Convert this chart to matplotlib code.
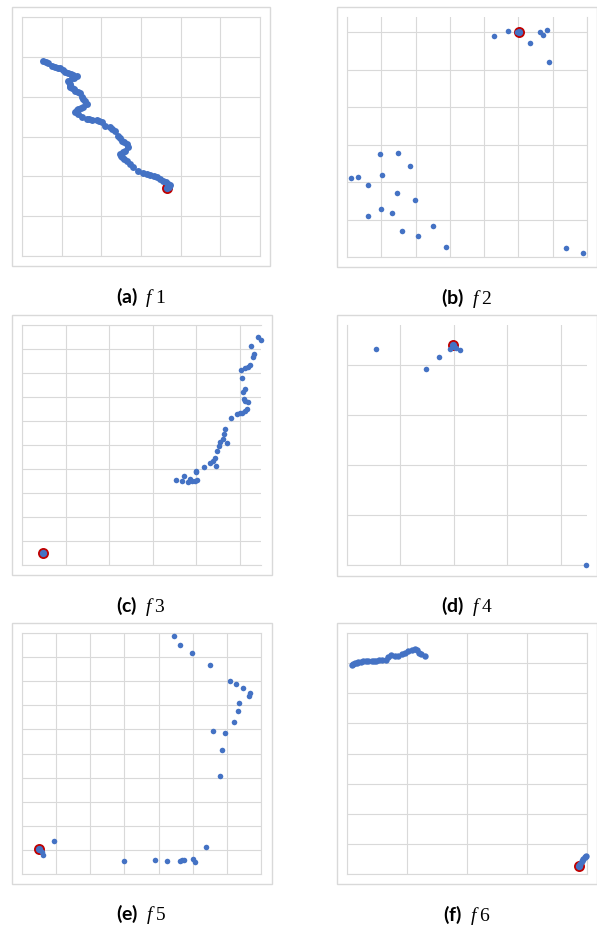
import matplotlib
matplotlib.use('Agg')
import matplotlib.pyplot as plt
from matplotlib.patches import Rectangle

W, H = 597, 929
plt.rcParams['mathtext.fontset'] = 'custom'
plt.rcParams['mathtext.rm'] = 'Liberation Serif'
plt.rcParams['mathtext.it'] = 'Liberation Serif:italic'
plt.rcParams['mathtext.bf'] = 'Lato:bold'

BLUE = '#4472C4'
RED = '#C00000'
GRID = '#d9d9d9'

# ---------------- data ----------------
f1_x = [0.54, 0.60, 0.66, 0.75, 0.83, 0.90, 0.96, 1.04, 1.08, 1.17, 1.23, 1.29, 1.38, 1.30, 1.25, 1.17,
        1.19, 1.20, 1.21, 1.22, 1.25, 1.30, 1.34, 1.42, 1.46, 1.50, 1.55, 1.59, 1.63, 1.55, 1.48, 1.42,
        1.38, 1.34, 1.42, 1.50, 1.63,
        1.70, 1.76, 1.88, 1.95, 2.01, 2.09, 2.22, 2.28, 2.34, 2.43, 2.47, 2.51, 2.57, 2.64, 2.68, 2.60,
        2.54, 2.47, 2.49,
        2.51, 2.58, 2.64, 2.72, 2.81, 2.93, 3.06, 3.15, 3.23, 3.32, 3.40, 3.48, 3.56, 3.63, 3.69, 3.73, 3.70]
f1_y = [4.89, 4.87, 4.85, 4.78, 4.74, 4.72, 4.71, 4.68, 4.63, 4.59, 4.57, 4.54, 4.51, 4.48, 4.46, 4.40,
        4.36, 4.32, 4.27, 4.24, 4.21, 4.18, 4.15, 4.12, 4.09, 3.98, 3.94, 3.90, 3.82, 3.73, 3.71, 3.69,
        3.66, 3.62, 3.57, 3.50, 3.44,
        3.43, 3.42, 3.42, 3.40, 3.36, 3.27, 3.23, 3.19, 3.15, 3.02, 2.96, 2.89, 2.85, 2.81, 2.73, 2.64,
        2.60, 2.56, 2.52,
        2.48, 2.43, 2.39, 2.31, 2.23, 2.14, 2.08, 2.05, 2.03, 2.00, 1.98, 1.94, 1.89, 1.85, 1.81, 1.77, 1.74]
f1_best = (3.66, 1.70)

f2_x = [4.29, 4.70, 4.95, 5.33, 5.62, 5.73, 5.84, 5.88, 0.97, 1.48, 1.85, 0.13, 0.31, 1.02, 0.61,
        1.45, 1.97, 1.00, 1.32, 0.61, 1.60, 2.50, 2.07, 2.88, 6.38, 6.88]
f2_y = [5.89, 6.02, 6.00, 5.71, 6.01, 5.91, 6.05, 5.20, 2.75, 2.77, 2.42, 2.12, 2.14, 2.19, 1.91,
        1.72, 1.53, 1.29, 1.17, 1.10, 0.70, 0.84, 0.56, 0.28, 0.24, 0.12]
f2_best = (5.01, 6.00)

f3_x = [3.54, 3.67, 3.72, 3.81, 3.85, 3.89, 3.96, 4.02, 4.00, 3.98, 4.18, 4.31, 4.38, 4.42, 4.44,
        4.48, 4.51, 4.53, 4.61, 4.63, 4.65, 4.69, 4.80, 4.94, 4.99, 5.05, 5.11, 5.15, 5.11, 5.18,
        5.09, 5.07, 5.11, 5.05, 5.03, 5.11, 5.18, 5.22, 5.30, 5.32, 5.24, 5.41, 5.47]
f3_y = [3.56, 3.49, 3.72, 3.44, 3.58, 3.49, 3.51, 3.54, 3.86, 3.93, 4.10, 4.25, 4.35, 4.44, 4.14,
        4.76, 4.94, 5.11, 5.25, 5.46, 5.67, 5.07, 6.11, 6.29, 6.32, 6.33, 6.42, 6.50, 6.85, 6.78,
        6.92, 7.19, 7.33, 7.79, 8.14, 8.19, 8.24, 8.33, 8.65, 8.79, 9.11, 9.49, 9.39]
f3_best = (0.49, 0.50)

f4_x = [0.54, 1.47, 1.73, 1.93, 2.01, 2.04, 2.11, 4.47]
f4_y = [4.33, 3.93, 4.17, 4.33, 4.37, 4.35, 4.31, 0.00]
f4_best = (1.98, 4.41)

f5_x = [4.46, 4.64, 4.99, 5.52, 6.10, 6.28, 6.47, 6.67, 6.66, 6.36, 6.32, 6.20, 5.58, 5.94, 5.86,
        5.81, 0.94, 0.53, 0.58, 0.62, 3.00, 3.91, 4.25, 4.63, 4.70, 4.75, 5.00, 5.08, 5.40]
f5_y = [9.89, 9.49, 9.17, 8.69, 8.01, 7.90, 7.73, 7.52, 7.37, 7.11, 6.76, 6.32, 5.92, 5.85, 5.16,
        4.08, 1.38, 0.98, 0.91, 0.79, 0.55, 0.59, 0.55, 0.55, 0.58, 0.59, 0.64, 0.50, 1.13]
f5_best = (0.50, 1.02)

f6_x = [0.08, 0.10, 0.13, 0.16, 0.19, 0.23, 0.27, 0.31, 0.35, 0.41, 0.45, 0.49, 0.54, 0.58, 0.65,
        0.69, 0.74, 0.80, 0.85, 0.91, 0.97, 1.02, 1.08, 1.13, 1.17, 1.20, 1.24, 1.30,
        3.86, 3.88, 3.91, 3.94, 3.97, 3.99]
f6_y = [6.94, 6.98, 7.01, 7.02, 7.03, 7.05, 7.06, 7.06, 7.07, 7.06, 7.07, 7.08, 7.09, 7.09, 7.12,
        7.21, 7.26, 7.23, 7.23, 7.29, 7.35, 7.40, 7.43, 7.46, 7.43, 7.35, 7.29, 7.23,
        0.27, 0.34, 0.42, 0.49, 0.55, 0.61]
f6_best = (3.86, 0.25)

labels = ['a', 'b', 'c', 'd', 'e', 'f']
names = ['1', '2', '3', '4', '5', '6']

# ---------------- layout (pixels) ----------------
panels = [
    dict(x=f1_x, y=f1_y, best=f1_best, xlim=6, ylim=6, ms=5.0, ax=(22, 18, 260, 257), box=(12, 8, 270, 267), cap=(141, 297)),
    dict(x=f2_x, y=f2_y, best=f2_best, xlim=7, ylim=6.4, ms=4.0, ax=(347, 18, 587, 258), box=(337, 8, 596.5, 268), cap=(467, 298)),
    dict(x=f3_x, y=f3_y, best=f3_best, xlim=5.48, ylim=10, ms=4.0, ax=(22, 326, 261, 566), box=(12, 316, 272, 576), cap=(141, 606)),
    dict(x=f4_x, y=f4_y, best=f4_best, xlim=4.49, ylim=4.8, ms=4.0, ax=(347, 326, 587, 566), box=(337, 316, 596.5, 577), cap=(467, 606)),
    dict(x=f5_x, y=f5_y, best=f5_best, xlim=7, ylim=10, ms=4.0, ax=(22, 634, 261, 875), box=(12, 624, 272, 885), cap=(141, 914)),
    dict(x=f6_x, y=f6_y, best=f6_best, xlim=4, ylim=8, ms=4.6, ax=(347, 634, 587, 875), box=(337, 624, 596.5, 885), cap=(467, 915)),
]

fig = plt.figure(figsize=(W / 100, H / 100), dpi=100)
fig.patch.set_facecolor('white')

for i, p in enumerate(panels):
    bx0, by0, bx1, by1 = p['box']
    fig.patches.append(Rectangle((bx0 / W, 1 - by1 / H), (bx1 - bx0) / W, (by1 - by0) / H,
                                 transform=fig.transFigure, fill=False, edgecolor=GRID, linewidth=1.0))
    x0, y0, x1, y1 = p['ax']
    ax = fig.add_axes([x0 / W, 1 - y1 / H, (x1 - x0) / W, (y1 - y0) / H])
    ax.set_xlim(0, p['xlim'])
    ax.set_ylim(0, p['ylim'])
    ax.set_xticks(range(0, int(p['xlim']) + 1))
    ax.set_yticks(range(0, int(p['ylim']) + 1))
    ax.tick_params(length=0, labelbottom=False, labelleft=False)
    ax.grid(True, color=GRID, linewidth=0.8)
    ax.set_axisbelow(True)
    for side, sp in ax.spines.items():
        sp.set_color(GRID)
        sp.set_linewidth(0.8)
    if p['xlim'] != int(p['xlim']):
        ax.spines['right'].set_visible(False)
    if p['ylim'] != int(p['ylim']):
        ax.spines['top'].set_visible(False)
    ax.plot([p['best'][0]], [p['best'][1]], 'o', ms=6.6, mfc=BLUE, mec=RED, mew=1.3,
            zorder=3, clip_on=False)
    ax.plot(p['x'], p['y'], 'o', ms=p['ms'], color=BLUE, mew=0, zorder=4, clip_on=False)
    cx, cy = p['cap']
    fig.text(cx / W, 1 - cy / H, r'$\mathbf{(%s)}\ \ f\;%s$' % (labels[i], names[i]),
             ha='center', va='center', fontsize=14)

fig.savefig('out.png', dpi=100)
